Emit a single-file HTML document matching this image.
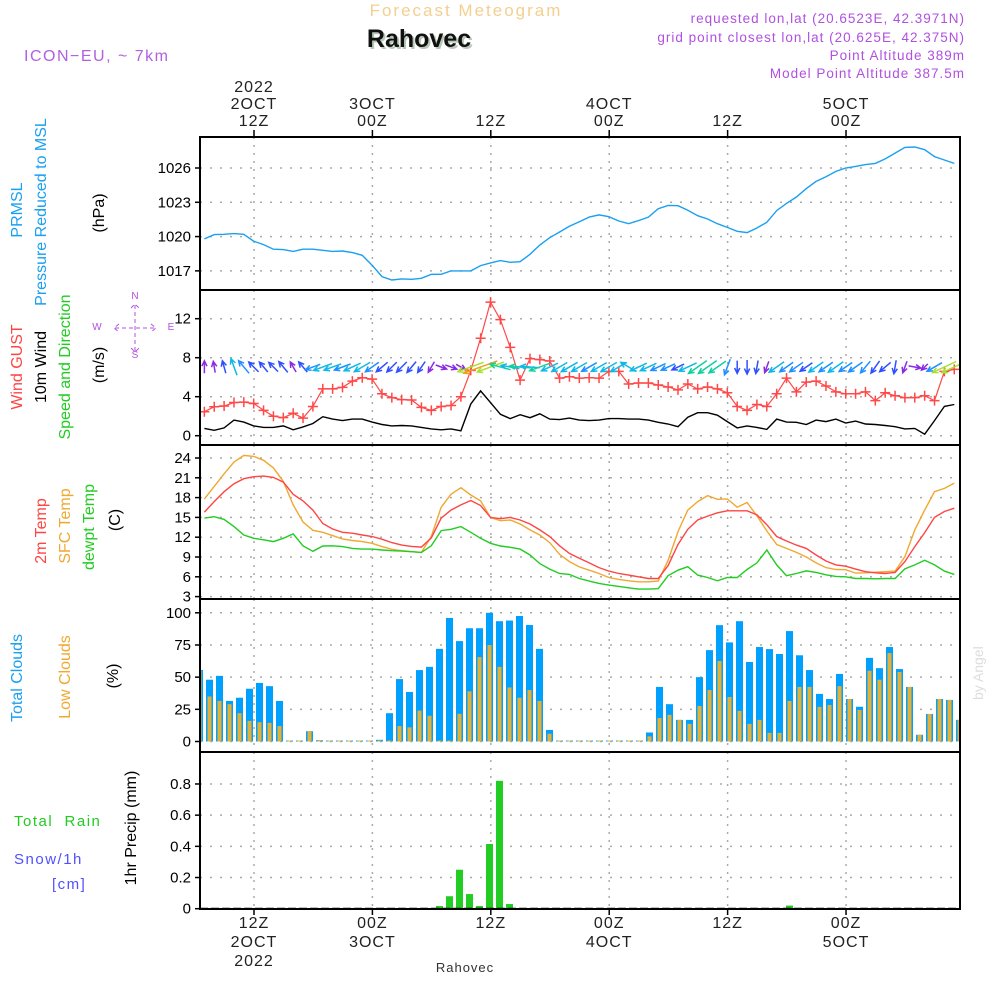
<!DOCTYPE html>
<html><head><meta charset="utf-8"><style>
html,body{margin:0;padding:0;background:#fff}
svg{display:block}
text{font-family:"Liberation Sans",sans-serif}
</style></head><body>
<svg id="chart" width="1000" height="1000" viewBox="0 0 1000 1000" xmlns="http://www.w3.org/2000/svg">
<defs><clipPath id="windclip"><rect x="200" y="290" width="760" height="155"/></clipPath></defs>
<g>
<text x="466" y="16" text-anchor="middle" font-size="17" letter-spacing="2" fill="#f3cf90">Forecast Meteogram</text>
<text x="421" y="49" text-anchor="middle" font-size="25" font-weight="bold" font-family="Liberation Serif,serif" fill="#b8c8b8">Rahovec</text>
<text x="419" y="47" text-anchor="middle" font-size="25" font-weight="bold" font-family="Liberation Serif,serif" fill="#111">Rahovec</text>
<text x="24" y="61" font-size="16" letter-spacing="1.5" fill="#b060e0">ICON−EU, ~ 7km</text>
<g font-size="13.5" fill="#b050e0" text-anchor="end" letter-spacing="1">
<text x="965" y="23">requested lon,lat (20.6523E, 42.3971N)</text>
<text x="965" y="42">grid point closest lon,lat (20.625E, 42.375N)</text>
<text x="965" y="60">Point Altitude 389m</text>
<text x="965" y="78">Model Point Altitude 387.5m</text>
</g>
</g>
<g id="labels" font-size="15"></g>
<g id="grid"></g>
<g id="marks"></g>
<g id="arrows" clip-path="url(#windclip)"></g>
<g id="frames"></g>
<text transform="translate(983,700) rotate(-90)" font-size="14" font-family="Liberation Serif,serif" fill="#ddd">by Angel</text>
<text x="465" y="972" text-anchor="middle" font-size="13" font-family="Liberation Serif,serif" letter-spacing="1" fill="#333">Rahovec</text>
</svg>
<script>
const startHour = 7;
const pressure = [1019.8,1020.17,1020.2,1020.26,1020.2,1019.6,1019.3,1018.9,1018.86,1018.7,1018.9,1018.9,1018.8,1018.7,1018.74,1018.6,1018.36,1017.5,1016.5,1016.2,1016.3,1016.26,1016.35,1016.7,1016.7,1017.0,1017.0,1017.0,1017.46,1017.7,1017.9,1017.75,1017.8,1018.45,1019.26,1019.9,1020.4,1020.9,1021.3,1021.7,1021.9,1021.74,1021.36,1021.13,1021.4,1021.7,1022.44,1022.73,1022.7,1022.3,1021.83,1021.54,1021.13,1020.8,1020.46,1020.35,1020.75,1021.25,1022.27,1022.9,1023.46,1024.2,1024.83,1025.24,1025.7,1026.0,1026.14,1026.3,1026.4,1026.8,1027.3,1027.8,1027.84,1027.6,1027.0,1026.7,1026.4];
const gust = [2.46,2.97,3.04,3.4,3.45,3.3,2.6,2.0,1.85,2.3,1.8,3.0,4.8,4.8,4.96,5.6,5.95,5.8,4.3,3.9,3.7,3.66,2.9,2.6,3.0,3.1,4.0,6.7,10.0,13.7,11.9,9.06,5.7,7.9,7.8,7.66,5.9,6.05,5.9,5.95,5.9,6.6,6.6,5.3,5.4,5.4,5.2,5.0,4.7,5.3,4.8,5.0,4.8,4.4,3.0,2.6,3.2,3.0,4.3,5.9,4.5,5.5,5.6,5.1,4.5,4.3,4.3,4.5,3.6,4.4,4.1,3.9,3.9,4.1,3.6,6.6,6.8];
const wind10 = [0.75,0.55,0.8,1.6,1.4,1.0,0.85,0.85,1.0,0.6,0.9,1.25,1.95,1.7,1.55,1.7,1.7,1.4,1.15,1.0,1.05,1.0,0.85,0.7,0.6,0.7,0.5,3.25,4.6,3.4,2.2,1.75,2.15,1.85,2.25,1.7,1.65,1.8,1.6,1.55,1.6,1.75,1.75,1.7,1.7,1.6,1.37,1.2,0.92,1.9,2.36,2.36,2.1,1.45,0.8,1.0,0.85,0.65,1.7,1.4,1.37,1.15,1.6,1.45,1.7,1.3,1.5,1.2,1.15,1.05,0.92,0.7,0.75,0.15,1.55,3.0,3.2];
const windDir = [0,350,345,340,320,315,320,315,320,330,320,250,250,250,250,245,240,235,230,225,225,220,215,210,110,110,120,250,250,250,285,280,275,275,250,245,240,240,240,240,240,240,240,300,245,245,245,245,245,245,235,235,235,200,180,180,190,200,235,235,235,235,235,235,235,235,235,220,215,230,190,200,100,225,240,245,245];
const temp2m = [15.8,17.4,18.9,20.1,20.86,21.16,21.26,21.06,20.35,18.5,17.5,16.1,14.07,13.25,12.75,12.6,12.34,12.1,11.7,11.18,10.8,10.6,10.5,11.9,14.9,16.1,16.9,17.56,16.8,15.0,14.8,15.0,14.6,14.0,13.1,12.1,10.7,9.55,8.8,8.1,7.4,6.87,6.5,6.26,6.0,5.75,5.75,7.7,10.9,13.2,14.6,15.2,15.7,16.0,16.0,16.0,15.4,13.9,12.1,11.43,10.8,10.3,9.3,8.4,7.8,7.6,7.17,6.77,6.6,6.5,6.67,8.3,10.57,12.7,15.0,15.9,16.4];
const tempSfc = [17.8,19.7,21.6,23.4,24.4,24.25,23.65,22.5,20.45,16.9,14.3,13.05,12.75,12.24,11.73,11.5,11.33,11.07,10.57,10.16,9.96,9.8,9.7,12.1,16.55,18.5,19.5,18.4,17.5,15.0,14.5,14.6,14.0,13.1,12.34,11.18,9.4,8.3,7.5,7.0,6.5,5.9,5.6,5.4,5.25,5.25,5.35,8.5,12.85,16.1,17.4,18.3,17.75,17.8,16.55,17.26,15.23,12.95,10.9,10.3,9.7,9.0,8.1,7.4,7.1,7.07,6.56,6.6,6.7,6.77,6.87,9.05,13.1,16.1,18.9,19.4,20.2];
const dewpt = [14.9,15.1,14.7,13.6,12.34,11.84,11.6,11.33,11.84,12.5,10.7,9.86,10.67,10.7,10.57,10.3,10.2,10.2,10.06,9.96,9.9,9.8,9.7,10.7,13.0,13.2,13.6,12.75,11.84,11.07,10.67,10.47,10.2,9.3,8.0,7.17,6.5,6.36,5.75,5.35,5.0,4.74,4.54,4.34,4.13,4.13,4.2,6.16,7.0,7.53,6.26,5.9,5.4,5.9,5.9,7.1,8.1,10.06,7.8,6.16,6.5,6.9,6.67,6.3,6.06,6.0,5.75,5.75,5.7,5.75,5.75,7.2,7.8,8.5,7.8,6.87,6.36];
const totalClouds = [55.6,48,51,31.5,34,41,45.5,43,31.5,0,0,8,1,0,0,0,0,0,1.3,22,48.5,38.5,55.5,58,72,96,78,88,88,100,93.5,94,97.5,90.5,72,9,0,0,0,0,0,0,0,0,0,7,42.4,29,16.8,16.8,50,71,90.4,77,93.5,61.8,73.4,71.8,68,85.8,67,55.5,37,33,52.5,33,27,65,57,73.4,56.3,42.4,5.2,21.4,33,32.3,16.8];
const lowClouds = [55,35,31.5,29,22,16,15,14.5,12,0,0,8,1,0,0,0,0,0,0,0,12,11,24,20,0,0,21.5,39,65.6,75,58,42,34,40,31.5,6,0,0,0,0,0,0,0,0,0,4,18.3,20.7,16.8,13.7,27.6,40,62.5,34.6,23.8,13.7,16.8,6.7,6.7,31.5,42.4,42.4,26.9,28.4,43,33,24.5,55,48,68.7,54,42.4,5.2,21.4,33,32.3,16.8];
const precip = [0,0,0,0,0,0,0,0,0,0,0,0,0,0,0,0,0,0,0,0,0,0,0,0,0.017,0.08,0.25,0.094,0.017,0.415,0.82,0.03,0,0,0,0,0,0,0,0,0,0,0,0,0,0,0,0,0,0,0,0,0,0,0,0,0,0,0,0.02,0,0,0,0,0,0,0,0,0,0,0,0,0,0,0,0,0];
const pressTicks = [1017,1020,1023,1026];
const windTicks = [0,4,8,12];
const tempTicks = [3,6,9,12,15,18,21,24];
const cloudTicks = [0,25,50,75,100];
const precipTicks = [0,0.2,0.4,0.6,0.8];
const gridHours = [12,24,36,48,60,72];
const topLabels = [["2022","2OCT","12Z"],["","3OCT","00Z"],["","","12Z"],["","4OCT","00Z"],["","","12Z"],["","5OCT","00Z"]];
const botLabels = [["12Z","2OCT","2022"],["00Z","3OCT",""],["12Z","",""],["00Z","4OCT",""],["12Z","",""],["00Z","5OCT",""]];

const NS="http://www.w3.org/2000/svg";
function mk(tag, attrs, parent){const e=document.createElementNS(NS,tag);for(const k in attrs)e.setAttribute(k,attrs[k]);parent.appendChild(e);return e;}
const X0=200,X1=960;
const xTime = h => 254 + (h-12)*9.867;
const xLine = i => xTime(startHour+i) - 0.3;
const xBar = i => 199.5 + i*10;
const yP = v => 168 + (1026-v)*11.43;
const yW = v => 435.7 - v*9.75;
const yT = v => 458 + (24-v)*6.6;
const yC = v => 741.5 - v*1.287;
const yR = v => 908.7 - v*155.9;
const panels = [[137,290],[290,445],[445,599],[599,752],[752,909]];

const grid=document.getElementById('grid'), marks=document.getElementById('marks'), frames=document.getElementById('frames'), labels=document.getElementById('labels'), arrows=document.getElementById('arrows');

panels.forEach((p,pi)=>{
  gridHours.forEach(h=>{
    const l=mk('line',{x1:xTime(h),x2:xTime(h),y1:p[0],y2:p[1],stroke:'#aaa','stroke-width':1.5,'stroke-dasharray':'2,6'},grid);
    
    
  });
});
function hgrid(ticks, yf, fmt){
  ticks.forEach(t=>{
    const y=yf(t);
    const l=mk('line',{x1:X0,x2:X1,y1:y,y2:y,stroke:'#aaa','stroke-width':1.5,'stroke-dasharray':'2,8'},grid);
    
    
    const tk=mk('line',{x1:X0-5,x2:X0,y1:y,y2:y,stroke:'#000','stroke-width':1.5},frames);
    
    
    const tx=mk('text',{x:X0-9,y:y+5,'text-anchor':'end','font-size':15,fill:'#000'},labels);
    
    
    tx.textContent=fmt?fmt(t):String(t);
  });
}
hgrid(pressTicks,yP);
hgrid(windTicks,yW);
hgrid(tempTicks,yT);
hgrid(cloudTicks,yC);
hgrid(precipTicks,yR,t=>t===0?'0':t.toFixed(1));

function line(arr,xf,yf,color,name,w){
  const d=arr.map((v,i)=>(i?'L':'M')+xf(i).toFixed(1)+','+yf(v).toFixed(1)).join('');
  const p=mk('path',{d:d,fill:'none',stroke:color,'stroke-width':w||1.3},marks);
  
  
}
line(pressure,xLine,yP,'#1aa0f0','pressure-line',1.4);
line(wind10,xLine,yW,'#000','wind10m-line',1.4);
line(gust,xLine,yW,'#ff4848','gust-line',1.2);
gust.forEach((v,i)=>{
  const x=xLine(i),y=yW(v);
  const m=mk('path',{d:`M${x-5},${y}H${x+5}M${x},${y-5}V${y+5}`,stroke:'#ff4848','stroke-width':1.5},marks);
  
  
});
function windColor(s){
  if(s<0.8)return '#8a2be2'; if(s<1.2)return '#3050ff'; if(s<1.6)return '#1e90ff';
  if(s<2.0)return '#10b8e8'; if(s<2.6)return '#10d0a0'; if(s<3.6)return '#a8e030'; return '#f0a020';
}
windDir.forEach((d,i)=>{
  const s=wind10[i], len=8+6*s, a=d*Math.PI/180;
  const dx=Math.sin(a), dy=-Math.cos(a);
  const cx=xLine(i), cy=367;
  const x1=cx-dx*len/2, y1=cy-dy*len/2, x2=cx+dx*len/2, y2=cy+dy*len/2;
  const h=6, b1=a+Math.PI-0.45, b2=a+Math.PI+0.45;
  const dd=`M${x1.toFixed(1)},${y1.toFixed(1)}L${x2.toFixed(1)},${y2.toFixed(1)}M${(x2+Math.sin(b1)*h).toFixed(1)},${(y2-Math.cos(b1)*h).toFixed(1)}L${x2.toFixed(1)},${y2.toFixed(1)}L${(x2+Math.sin(b2)*h).toFixed(1)},${(y2-Math.cos(b2)*h).toFixed(1)}`;
  const p=mk('path',{d:dd,fill:'none',stroke:windColor(s),'stroke-width':1.5},arrows);
  
  
});
line(tempSfc,xLine,yT,'#f0a830','sfc-temp-line',1.4);
line(temp2m,xLine,yT,'#ff4444','temp-2m-line',1.4);
line(dewpt,xLine,yT,'#22cc22','dewpt-line',1.4);
totalClouds.forEach((v,i)=>{
  const x=xBar(i); const y=yC(v); const x0=Math.max(X0,x-3.5), x1=Math.min(X1,x+3.5);
  const r=mk('rect',{x:x0,y:Math.min(y,yC(0)-1),width:x1-x0,height:Math.max(1,yC(0)-y),fill:'#00a0ff'},marks);
  
  
  const yl=yC(lowClouds[i]); const l0=Math.max(X0,x-2), l1=Math.min(X1,x+2);
  const r2=mk('rect',{x:l0,y:Math.min(yl,yC(0)-1),width:Math.max(0,l1-l0),height:Math.max(1,yC(0)-yl),fill:'#e8b030'},marks);
  
  
});
precip.forEach((v,i)=>{
  if(v<=0)return;
  const x=xBar(i), y=yR(v);
  const r=mk('rect',{x:x-3.5,y:y,width:7,height:yR(0)-y,fill:'#22cc22'},marks);
  
  
});
panels.forEach(p=>{
  const r=mk('rect',{x:X0,y:p[0],width:X1-X0,height:p[1]-p[0],fill:'none',stroke:'#000','stroke-width':2},frames);
  
  
});
const zl=mk('line',{x1:X0,x2:X1,y1:yR(0),y2:yR(0),stroke:'#000','stroke-width':2,'stroke-dasharray':'8,3'},frames);


gridHours.forEach((h,k)=>{
  const x=xTime(h);
  const t1=mk('line',{x1:x,x2:x,y1:130,y2:137,stroke:'#000','stroke-width':1.5},frames);
  
  
  const t2=mk('line',{x1:x,x2:x,y1:909,y2:915,stroke:'#000','stroke-width':1.5},frames);
  
  
  topLabels[k].forEach((s,j)=>{ if(!s)return;
    const t=mk('text',{x:x,y:92+j*17,'text-anchor':'middle','font-size':16,fill:'#222','letter-spacing':1},labels);
    
    
    t.textContent=s;});
  botLabels[k].forEach((s,j)=>{ if(!s)return;
    const t=mk('text',{x:x,y:928+j*19,'text-anchor':'middle','font-size':16,fill:'#222','letter-spacing':1},labels);
    
    
    t.textContent=s;});
});
const titles=[
 ['prmsl-title','PRMSL',22,210,'#1aa0f0'],
 ['pressure-title','Pressure Reduced to MSL',46,212,'#1aa0f0'],
 ['hpa-title','(hPa)',104,213,'#000'],
 ['gust-title','Wind GUST',22,367,'#ff4444'],
 ['wind10-title','10m Wind',46,367,'#000'],
 ['speed-dir-title','Speed and Direction',70,367,'#22cc22'],
 ['ms-title','(m/s)',104,365,'#000'],
 ['temp2m-title','2m Temp',46,531,'#ff4444'],
 ['sfctemp-title','SFC Temp',70,526,'#f0a830'],
 ['dewpt-title','dewpt Temp',94,527,'#22cc22'],
 ['c-title','(C)',120,520,'#000'],
 ['total-clouds-title','Total Clouds',22,678,'#1aa0f0'],
 ['low-clouds-title','Low Clouds',70,677,'#f0a830'],
 ['pct-title','(%)',118,676,'#000'],
 ['precip-title','1hr Precip (mm)',136,828,'#000']];
titles.forEach(t=>{
  const e=mk('text',{transform:`translate(${t[2]},${t[3]}) rotate(-90)`,'text-anchor':'middle','font-size':16,fill:t[4]},labels);
  
  
  e.textContent=t[1];
});
[['total-rain-label','Total  Rain',14,826,'#22cc22'],['snow-label','Snow/1h',14,864,'#5050ff'],['cm-label','[cm]',52,889,'#5050ff']].forEach(t=>{
  const e=mk('text',{x:t[2],y:t[3],'font-size':15,fill:t[4],'letter-spacing':1.5},labels);
  
  
  e.style.whiteSpace='pre';
  e.textContent=t[1];
});
const cg=mk('g',{fill:'#b050e0','font-size':10},labels);


[['N',135,299],['W',97,330],['E',171,330],['S',135,358]].forEach(c=>{
  const e=mk('text',{x:c[1],y:c[2],'text-anchor':'middle'},cg);
  
  
  e.textContent=c[0];
});
const cp=mk('path',{d:'M135,305V352M115,328H155M119,324L114,328L119,332M151,324L156,328L151,332M131,308L135,304L139,308M131,348L135,352L139,348',stroke:'#b050e0','stroke-width':1,fill:'none','stroke-dasharray':'4,3'},cg);


</script>
</body></html>
